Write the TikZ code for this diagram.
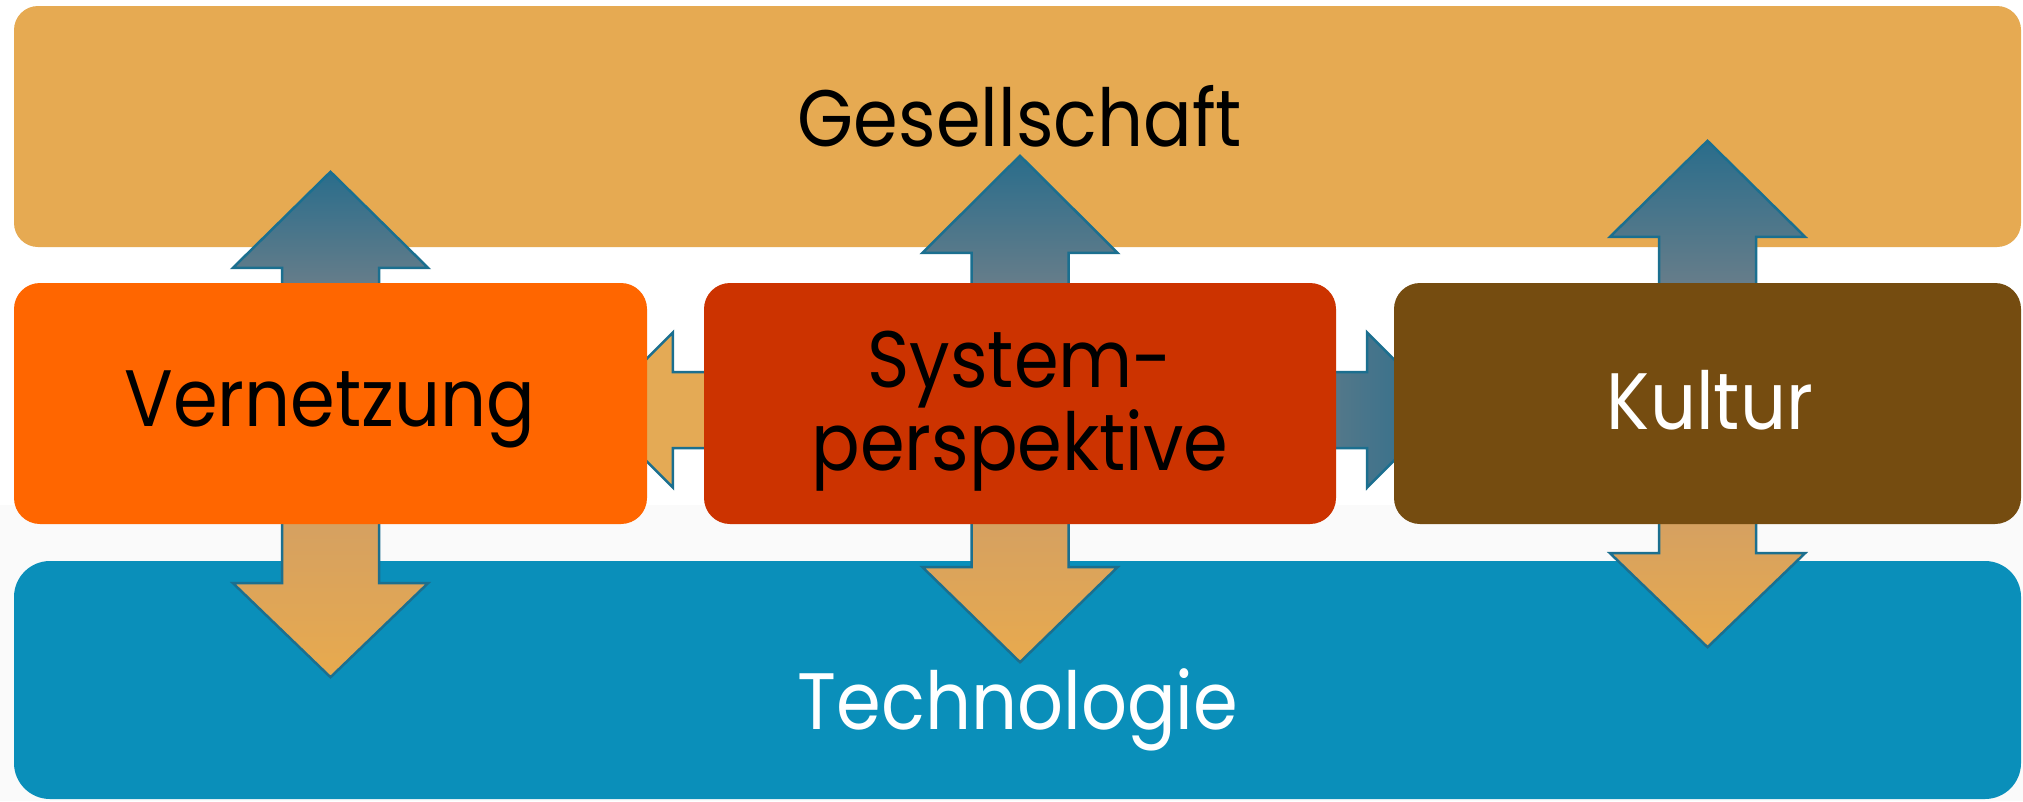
\documentclass[tikz,border=0pt]{standalone}
\usepackage{fontspec}
\setmainfont{Poppins}[FakeStretch=0.9]
\usetikzlibrary{calc}
\definecolor{gesell}{HTML}{E6AA52}
\definecolor{vernetz}{HTML}{FF6600}
\definecolor{system}{HTML}{CC3300}
\definecolor{kultur}{HTML}{754C10}
\definecolor{techno}{HTML}{0A8FBA}
\definecolor{arrline}{HTML}{1B6F8F}
\definecolor{bluetop}{HTML}{2A6D8B}
\definecolor{bluebot}{HTML}{6A7E8A}
\definecolor{orgtop}{HTML}{D4A062}
\definecolor{orgbot}{HTML}{E8AA4E}
\definecolor{orgflat}{HTML}{E4AA55}
\definecolor{bglow}{HTML}{FAFAFA}
\pgfdeclarelayer{back}
\pgfdeclarelayer{mid}
\pgfsetlayers{back,mid,main}
\tikzset{
  box/.style={rectangle, rounded corners=26pt, inner sep=0pt, minimum height=241pt},
  txt/.style={font=\fontsize{80}{96}\selectfont, anchor=base, inner sep=0pt},
  uparrow/.style={draw=arrline, line width=2.5pt, line join=miter, top color=bluetop, bottom color=bluebot},
  downarrow/.style={draw=arrline, line width=2.5pt, line join=miter, top color=orgtop, bottom color=orgbot},
  leftarrow/.style={draw=arrline, line width=2.5pt, line join=miter, fill=orgflat},
  rightarrow/.style={draw=arrline, line width=2.5pt, line join=miter, left color=bluebot!70!bluetop, right color=bluetop},
}
\newcommand{\blockup}[3]{%
  \path[uparrow] ($(#1.north)+(-48.5,10)$) -- ($(#1.north)+(-48.5,-#2)$) -- ($(#1.north)+(-97.5,-#2)$) -- ($(#1.north)+(0,-#3)$) -- ($(#1.north)+(97.5,-#2)$) -- ($(#1.north)+(48.5,-#2)$) -- ($(#1.north)+(48.5,10)$);}
\newcommand{\blockdown}[3]{%
  \path[downarrow] ($(#1.south)+(-48.5,-10)$) -- ($(#1.south)+(-48.5,#2)$) -- ($(#1.south)+(-97.5,#2)$) -- ($(#1.south)+(0,#3)$) -- ($(#1.south)+(97.5,#2)$) -- ($(#1.south)+(48.5,#2)$) -- ($(#1.south)+(48.5,-10)$);}
\begin{document}
\begin{tikzpicture}[x=1pt,y=-1pt]
\useasboundingbox (0,0) rectangle (2023,801);
% middle row boxes (front)
\node[box, fill=vernetz, minimum width=633pt] (v) at (330.5,403.5) {};
\node[box, fill=system, minimum width=632pt] (s) at (1020,403.5) {};
\node[box, fill=kultur, minimum width=627pt] (k) at (1707.5,403.5) {};
% texts
\node[txt, text=black] (vt) at (330,426) {Vernetzung};
\node[txt, text=black] (st1) at (1020,387) {System-};
\node[txt, text=black] (st2) at (1020,470) {perspektive};
\node[txt, text=white] (kt) at (1710,429) {Kultur};
% background
\begin{pgfonlayer}{back}
\fill[white] (0,0) rectangle (2023,801);
\fill[bglow] (0,505) rectangle (2023,801);
\end{pgfonlayer}
% top and bottom bands, then the arrows over them
\begin{pgfonlayer}{mid}
\node[box, fill=gesell, minimum width=2007pt, rounded corners=24pt] (g) at (1017.5,126.5) {};
\node[box, fill=techno, minimum width=2007pt, minimum height=238pt, rounded corners=36pt] (t) at (1017.5,680) {};
\node[txt, text=black] (gt) at (1020,146) {Gesellschaft};
\node[txt, text=white] (tt) at (1018,729) {Technologie};
\blockup{v}{15}{111}
\blockup{s}{30}{127}
\blockup{k}{46}{142}
\blockdown{v}{59}{153}
\blockdown{s}{43}{138}
\blockdown{k}{29}{123}
\path[leftarrow] ($(s.west)+(10,-31.5)$) -- ($(s.west)+(-31,-31.5)$) -- ($(s.west)+(-31,-71)$) -- ($(s.west)+(-108,6.5)$) -- ($(s.west)+(-31,84)$) -- ($(s.west)+(-31,44.5)$) -- ($(s.west)+(10,44.5)$);
\path[rightarrow] ($(s.east)+(-10,-31.5)$) -- ($(s.east)+(31,-31.5)$) -- ($(s.east)+(31,-71)$) -- ($(s.east)+(108,6.5)$) -- ($(s.east)+(31,84)$) -- ($(s.east)+(31,44.5)$) -- ($(s.east)+(-10,44.5)$);
\end{pgfonlayer}
\end{tikzpicture}
\end{document}
